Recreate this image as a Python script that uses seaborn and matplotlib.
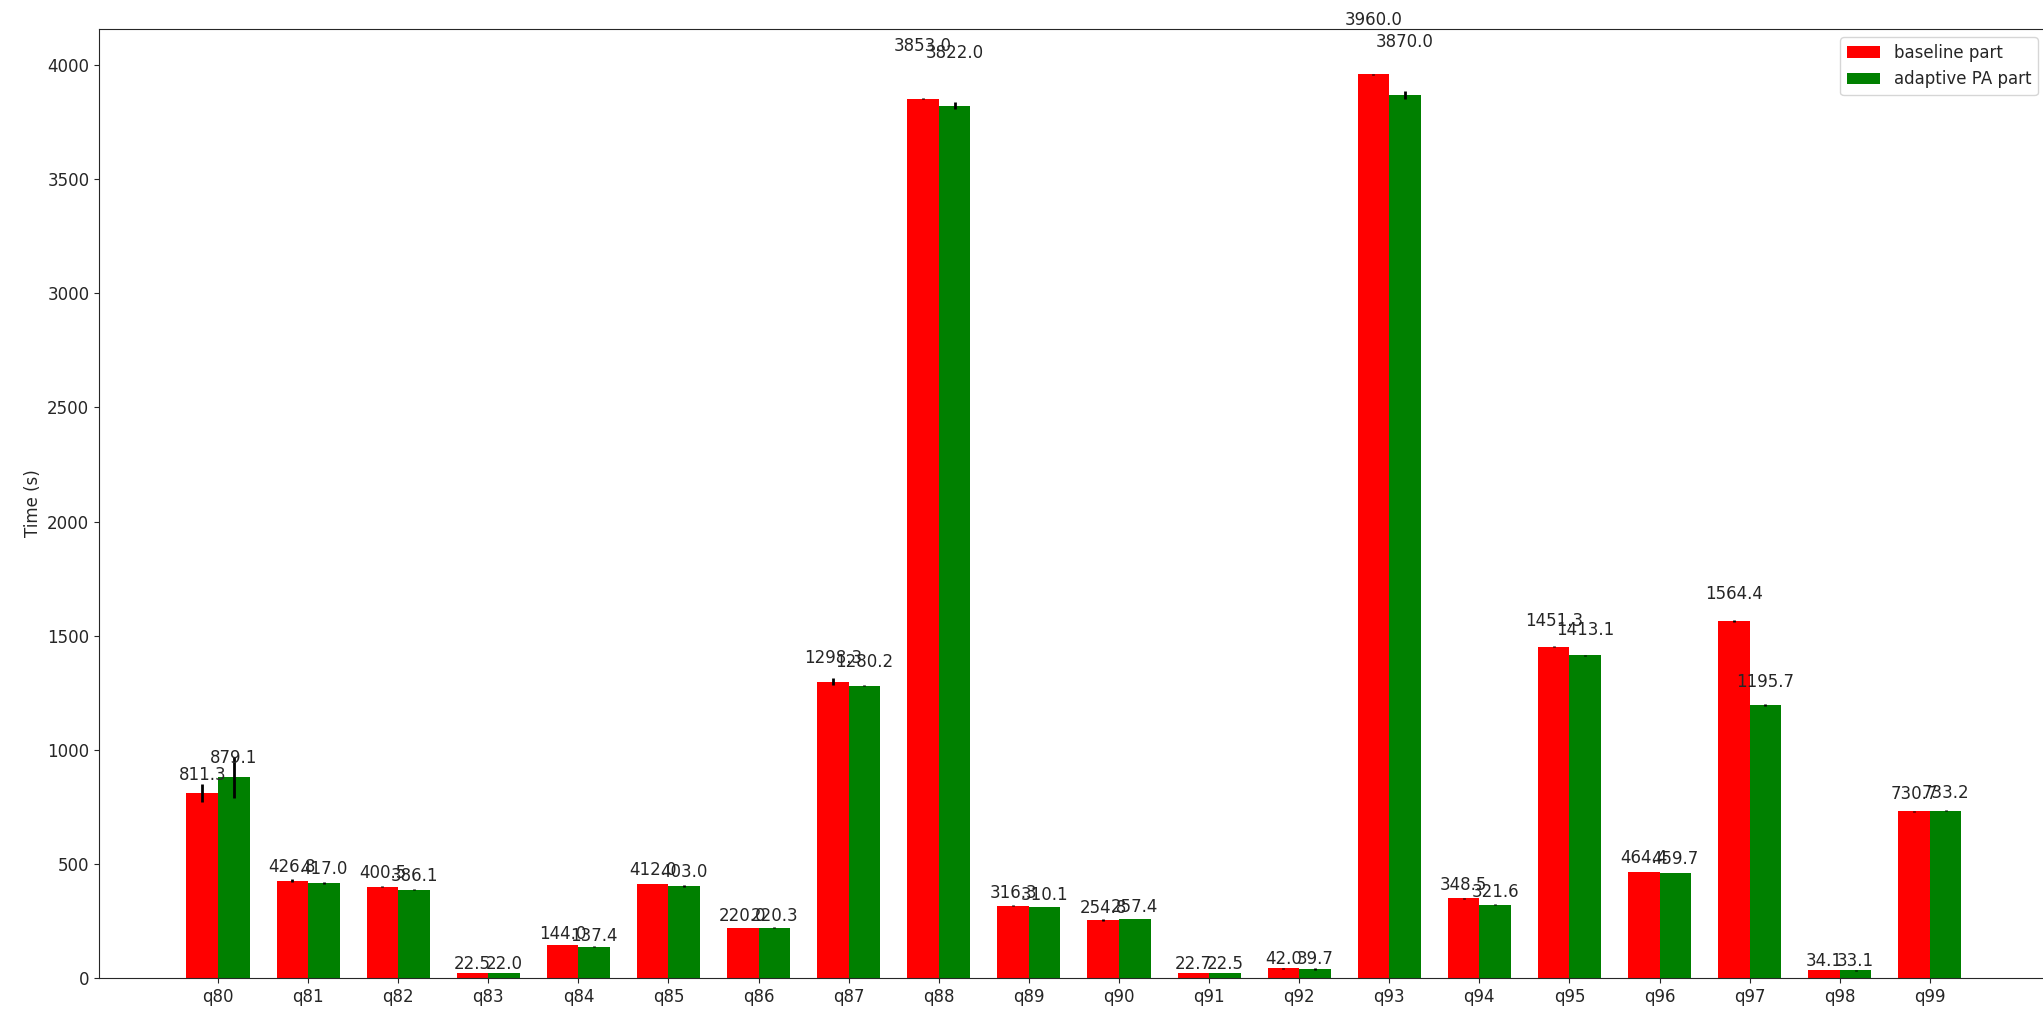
"""
Temps d'exécution par requête : baseline vs adaptive PA
"""
import numpy as np
import pandas as pd
import matplotlib
matplotlib.use('Agg')
import matplotlib.pyplot as plt
import seaborn as sns

# Données
queries = ['q80', 'q81', 'q82', 'q83', 'q84', 'q85', 'q86', 'q87', 'q88', 'q89',
           'q90', 'q91', 'q92', 'q93', 'q94', 'q95', 'q96', 'q97', 'q98', 'q99']
baseline = [811.3, 426.8, 400.5, 22.5, 144.0, 412.0, 220.0, 1298.3, 3853.0, 316.3,
            254.8, 22.7, 42.0, 3960.0, 348.5, 1451.3, 464.4, 1564.4, 34.1, 730.7]
adaptive = [879.1, 417.0, 386.1, 22.0, 137.4, 403.0, 220.3, 1280.2, 3822.0, 310.1,
            257.4, 22.5, 39.7, 3870.0, 321.6, 1413.1, 459.7, 1195.7, 33.1, 733.2]
baseline_err = [40, 5, 4, 0.5, 1, 2, 1, 15, 2, 3, 3, 0.3, 0.5, 2, 1, 2, 1, 3, 0.3, 3]
adaptive_err = [90, 3, 2, 0.5, 1, 5, 1, 3, 15, 1, 1, 0.3, 3, 17, 1, 1, 1, 3, 2, 1]
series_names = ['baseline part', 'adaptive PA part']
colors = ['red', 'green']

df = pd.DataFrame({
    'query': queries * 2,
    'time': baseline + adaptive,
    'series': [series_names[0]] * len(queries) + [series_names[1]] * len(queries),
})
errors = {series_names[0]: baseline_err, series_names[1]: adaptive_err}

sns.set_style('ticks')
plt.rcParams['font.family'] = ['DejaVu Sans']
plt.rcParams['font.size'] = 12

fig = plt.figure(figsize=(20.43, 10.18), dpi=100)
ax = fig.add_axes([0.0485, 0.0393, 0.9530, 0.9322])

sns.barplot(data=df, x='query', y='time', hue='series', palette=colors,
            saturation=1, width=0.7, errorbar=None, linewidth=0, ax=ax)

# barres d'erreur + étiquettes
for container, name in zip(ax.containers, series_names):
    xs = [p.get_x() + p.get_width() / 2 for p in container.patches]
    hs = [p.get_height() for p in container.patches]
    ax.errorbar(xs, hs, yerr=errors[name], fmt='none', ecolor='black',
                elinewidth=2, capsize=0)
    for x, h in zip(xs, hs):
        ax.text(x, 1.05 * h, '%.1f' % h, ha='center', va='bottom',
                fontsize=12, color='#262626')

ax.set_xlim(-1.32, 20.29)
ax.set_ylim(0, 1.05 * max(baseline + adaptive))
ax.set_xlabel('')
ax.set_ylabel('Time (s)', fontsize=12)
ax.tick_params(labelsize=12)
ax.legend(loc='upper right', title=None, fontsize=12)

fig.savefig('out.png', dpi=100)
plt.close()
